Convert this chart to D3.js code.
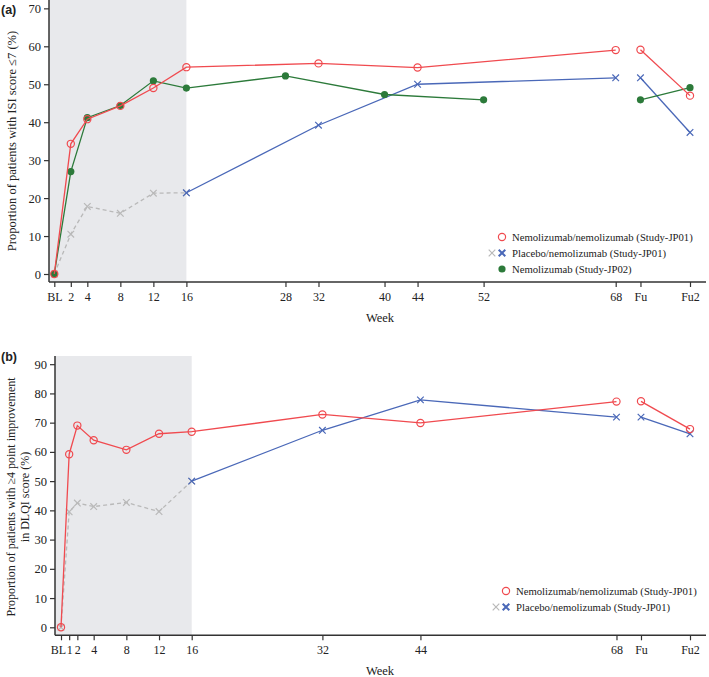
<!DOCTYPE html>
<html><head><meta charset="utf-8">
<script src="https://cdn.jsdelivr.net/npm/d3@7"></script>
<style>body{margin:0;background:#fff}svg{display:block}</style>
</head><body>
<svg id="c" width="709" height="677"></svg>
<script>
// ---------- DATA ----------
// x positions: BL=0, weeks as numbers, Fu=71, Fu2=77
const topTickWeeks = [0,2,4,8,12,16,28,32,40,44,52,68,71,77];
const topTickLabels = ["BL","2","4","8","12","16","28","32","40","44","52","68","Fu","Fu2"];
const botTickWeeks = [0,1,2,4,8,12,16,32,44,68,71,77];
const botTickLabels = ["BL","1","2","4","8","12","16","32","44","68","Fu","Fu2"];
const yTicksTop = [0,10,20,30,40,50,60,70];
const yTicksBot = [0,10,20,30,40,50,60,70,80,90];

// Panel (a) ISI
const aRedWeeks = [0,2,4,8,12,16,32,44,68];
const aRedVals  = [0,34.3,40.8,44.3,49.0,54.5,55.5,54.4,59.0];
const aRedFuWeeks = [71,77];
const aRedFuVals  = [59.1,47.0];
const aGrayWeeks = [0,2,4,8,12,16];
const aGrayVals  = [0,10.5,17.8,16.0,21.3,21.4];
const aBlueWeeks = [16,32,44,68];
const aBlueVals  = [21.4,39.2,50.0,51.7];
const aBlueFuWeeks = [71,77];
const aBlueFuVals  = [51.7,37.3];
const aGreenWeeks = [0,2,4,8,12,16,28,40,52];
const aGreenVals  = [0,27.0,41.2,44.4,50.9,49.0,52.2,47.3,45.9];
const aGreenFuWeeks = [71,77];
const aGreenFuVals  = [45.9,49.1];

// Panel (b) DLQI
const bRedWeeks = [0,1,2,4,8,12,16,32,44,68];
const bRedVals  = [0,59.2,69.0,64.0,60.7,66.2,66.9,72.8,69.9,77.2];
const bRedFuWeeks = [71,77];
const bRedFuVals  = [77.3,67.8];
const bGrayWeeks = [0,1,2,4,8,12,16];
const bGrayVals  = [0,39.5,42.5,41.3,42.7,39.6,50.0];
const bBlueWeeks = [16,32,44,68];
const bBlueVals  = [50.0,67.4,77.8,71.9];
const bBlueFuWeeks = [71,77];
const bBlueFuVals  = [71.9,66.2];

const legendA = ["Nemolizumab/nemolizumab (Study-JP01)","Placebo/nemolizumab (Study-JP01)","Nemolizumab (Study-JP02)"];
const legendB = ["Nemolizumab/nemolizumab (Study-JP01)","Placebo/nemolizumab (Study-JP01)"];

// ---------- STYLE ----------
const RED="#f04a4f", BLUE="#4a68b8", GREEN="#2c7a3a", GRAY="#b9b9b9", SHADE="#e8e9ec";
const FONT="'Liberation Serif','Times New Roman',serif";
const svg = d3.select("#c");

function zip(w,v){return w.map((x,i)=>({w:x,v:v[i]}));}

function panel(cfg){
  const g = svg.append("g");
  const x = d3.scaleLinear().domain([0,77]).range([cfg.x0, 690]);
  const y = d3.scaleLinear().domain([0,cfg.ymax]).range([cfg.y0, cfg.ytop]);
  const axisY = cfg.y0 + 8;
  // shade
  g.append("rect").attr("x",cfg.axX).attr("y",cfg.ytop).attr("width",x(16)-cfg.axX).attr("height",axisY-cfg.ytop).attr("fill",SHADE);
  // y axis
  const ya = g.append("g").attr("transform",`translate(${cfg.axX},0)`).call(d3.axisLeft(y).tickValues(cfg.yTicks).tickSize(5).tickSizeOuter(0));
  ya.select(".domain").remove();
  g.append("line").attr("x1",cfg.axX).attr("x2",cfg.axX).attr("y1",cfg.ytop).attr("y2",axisY).attr("stroke","#333").attr("stroke-width",1.5);
  ya.selectAll("text").attr("font-family",FONT).attr("font-size",12.5).attr("fill","#222");
  ya.selectAll("line").attr("stroke","#333").attr("stroke-width",1.2);
  // x axis
  const xa = g.append("g").attr("transform",`translate(0,${axisY})`).call(d3.axisBottom(x).tickValues(cfg.xTicks).tickFormat((d,i)=>cfg.xLabels[i]).tickSize(5).tickSizeOuter(0));
  xa.select(".domain").remove();
  g.append("line").attr("x1",cfg.axX).attr("x2",706).attr("y1",axisY).attr("y2",axisY).attr("stroke","#333").attr("stroke-width",1.5);
  xa.selectAll("text").attr("font-family",FONT).attr("font-size",12).attr("fill","#222").attr("dy","0.9em");
  if(cfg.blShift) xa.selectAll("text").filter((d,i)=>i===0).attr("dx",-3);
  xa.selectAll("line").attr("stroke","#333").attr("stroke-width",1.2);
  // week label
  g.append("text").attr("x",380).attr("y",axisY+40).attr("text-anchor","middle").attr("font-family",FONT).attr("font-size",12.5).attr("fill","#222").text("Week");

  const line = d3.line().x(d=>x(d.w)).y(d=>y(d.v));
  function draw(data,color,dash,marker){
    g.append("path").datum(data).attr("d",line).attr("fill","none").attr("stroke",color).attr("stroke-width",1.3).attr("stroke-dasharray",dash?"4,3":null);
    data.forEach(d=>drawMarker(g,x(d.w),y(d.v),color,marker));
  }
  cfg.series.forEach(s=>draw(s.data,s.color,s.dash,s.marker));
  // title
  const t = g.append("text").attr("transform",`translate(${cfg.titleX},${cfg.titleY}) rotate(-90)`).attr("text-anchor","middle").attr("font-family",FONT).attr("font-size",cfg.titleSize).attr("fill","#222");
  cfg.title.forEach((s,i)=>t.append("tspan").attr("x",0).attr("dy",i?"1.2em":0).text(s));
  g.append("text").attr("x",1).attr("y",cfg.labelY).attr("font-family","'Liberation Sans',Arial,sans-serif").attr("font-weight","bold").attr("font-size",12.5).attr("fill","#222").text(cfg.label);
  // legend
  cfg.legend.forEach((txt,i)=>{
    const ly = cfg.legY + i*16;
    if(i===0) drawMarker(g,cfg.legX,ly,RED,"circle");
    if(i===1){ drawMarker(g,cfg.legX-10,ly,GRAY,"x"); drawMarker(g,cfg.legX,ly,BLUE,"x",true); }
    if(i===2) drawMarker(g,cfg.legX,ly,GREEN,"dot");
    g.append("text").attr("x",cfg.legX+10).attr("y",ly).attr("dy","0.35em").attr("font-family",FONT).attr("font-size",10.7).attr("fill","#222").text(txt);
  });
}
function drawMarker(g,cx,cy,color,m,bold){
  if(m==="circle") g.append("circle").attr("cx",cx).attr("cy",cy).attr("r",3.6).attr("fill","none").attr("stroke",color).attr("stroke-width",1.2);
  else if(m==="dot") g.append("circle").attr("cx",cx).attr("cy",cy).attr("r",3.6).attr("fill",color);
  else if(m==="x"){ const s=3.3;
    g.append("path").attr("d",`M${cx-s},${cy-s}L${cx+s},${cy+s}M${cx-s},${cy+s}L${cx+s},${cy-s}`).attr("stroke",color).attr("stroke-width",bold?2:1.2).attr("fill","none"); }
}

panel({x0:54.3, axX:49, y0:274, ymax:72.2, ytop:0, yTicks:yTicksTop, xTicks:topTickWeeks, xLabels:topTickLabels,
  title:["Proportion of patients with ISI score \u22647 (%)"], titleSize:12.5, titleX:16, titleY:141, label:"(a)", labelY:14,
  legX:502, legY:237, legend:legendA,
  series:[
    {data:zip(aGrayWeeks,aGrayVals),color:GRAY,dash:true,marker:"x"},
    {data:zip(aBlueWeeks,aBlueVals),color:BLUE,marker:"x"},
    {data:zip(aBlueFuWeeks,aBlueFuVals),color:BLUE,marker:"x"},
    {data:zip(aGreenWeeks,aGreenVals),color:GREEN,marker:"dot"},
    {data:zip(aGreenFuWeeks,aGreenFuVals),color:GREEN,marker:"dot"},
    {data:zip(aRedWeeks,aRedVals),color:RED,marker:"circle"},
    {data:zip(aRedFuWeeks,aRedFuVals),color:RED,marker:"circle"}
  ]});
panel({x0:61, axX:55, y0:627.3, ymax:92.8, ytop:356, yTicks:yTicksBot, xTicks:botTickWeeks, xLabels:botTickLabels, blShift:true,
  title:["Proportion of patients with \u22654 point improvement","in DLQI score (%)"], titleSize:12, titleX:15, titleY:497, label:"(b)", labelY:361,
  legX:506, legY:591, legend:legendB,
  series:[
    {data:zip(bGrayWeeks,bGrayVals),color:GRAY,dash:true,marker:"x"},
    {data:zip(bBlueWeeks,bBlueVals),color:BLUE,marker:"x"},
    {data:zip(bBlueFuWeeks,bBlueFuVals),color:BLUE,marker:"x"},
    {data:zip(bRedWeeks,bRedVals),color:RED,marker:"circle"},
    {data:zip(bRedFuWeeks,bRedFuVals),color:RED,marker:"circle"}
  ]});
</script>
</body></html>
